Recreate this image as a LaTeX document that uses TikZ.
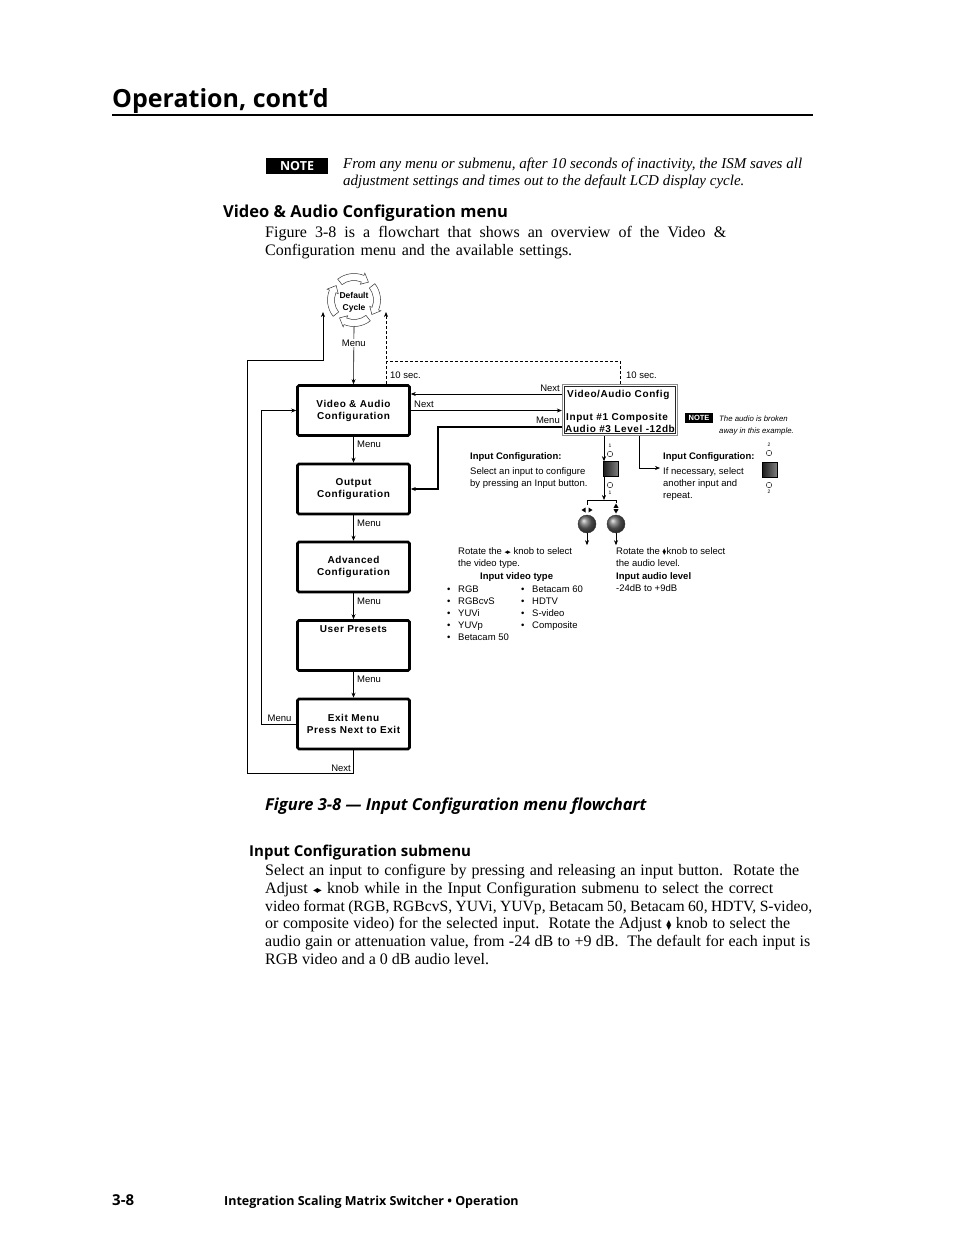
\documentclass[tikz,border=0pt]{standalone}
\usepackage{fontspec}
\setmainfont{Liberation Serif}
\newfontfamily\hfont{Open Sans}
\newfontfamily\dfont{Liberation Sans}
\newfontfamily\djv{DejaVu Sans}
\newfontfamily\bxfont[LetterSpace=6]{Liberation Sans}
\usetikzlibrary{arrows.meta}
\newcommand\lrico[1]{{\djv\fontsize{#1}{#1}\selectfont ◂\kern-0.12em▸}}
\newcommand\udico[1]{{\djv\fontsize{#1}{#1}\selectfont\rlap{\raisebox{0.3em}{▴}}\raisebox{-0.2em}{▾}}}
\begin{document}
\begin{tikzpicture}[x=1pt,y=-1pt,
  arr/.style={-{Stealth[length=5pt,width=4pt]}, line width=0.6pt},
  txt/.style={anchor=base west, inner sep=0pt, font=\fontsize{16}{18}\selectfont},
  itx/.style={anchor=base west, inner sep=0pt, font=\itshape\fontsize{15}{18}\selectfont},
  hd/.style={anchor=base west, inner sep=0pt, font=\hfont\bfseries\fontsize{16.5}{18}\selectfont},
  dt/.style={anchor=base west, inner sep=0pt, font=\dfont\fontsize{9.5}{11}\selectfont},
  dtb/.style={anchor=base west, inner sep=0pt, font=\dfont\bfseries\fontsize{9.5}{11}\selectfont},
  lbl/.style={inner sep=1pt, fill=white, font=\dfont\fontsize{9.5}{11}\selectfont},
  mbox/.style={draw, line width=2.6pt, rounded corners=1.5pt, minimum width=112pt, minimum height=50pt, inner sep=0pt, align=center, font=\bxfont\bfseries\fontsize{10}{12}\selectfont},
  lcdt/.style={anchor=base west, inner sep=0pt, font=\bxfont\bfseries\fontsize{10}{12}\selectfont},
  led/.style={circle, draw, fill=white, minimum size=5.5pt, inner sep=0pt, line width=0.4pt},
  tiny/.style={inner sep=0pt, font=\dfont\fontsize{5}{5}\selectfont},
  btn/.style={draw, line width=0.5pt, minimum size=15pt, inner sep=0pt, left color=black!90, right color=black!50},
  knob/.style={circle, draw=black!80, line width=0.4pt, minimum size=18pt, inner sep=0pt, ball color=black!60},
  cyarr/.style={fill=white, draw=black!80, line width=0.5pt}
]
\fill[white] (0,0) rectangle (954,1235);
\useasboundingbox (0,0) rectangle (954,1235);

% header
\node[anchor=base west, inner sep=0pt, font=\hfont\bfseries\fontsize{25}{30}\selectfont] (title) at (112,107) {Operation, cont’d};
\draw[line width=1.6pt] (112,115) -- (813,115);

\node[fill=black, text=white, font=\hfont\bfseries\fontsize{12.5}{14}\selectfont, minimum width=62pt, minimum height=16pt, inner sep=0pt] (note) at (297,166) {NOTE};
\node[itx] (n1) at (343,168) {From any menu or submenu, after 10 seconds of inactivity, the ISM saves all};
\node[itx] (n2) at (343,185) {adjustment settings and times out to the default LCD display cycle.};

\node[hd] (h1) at (223,217) {Video \& Audio Configuration menu};
\node[txt] (p1) at (265,237) {\makebox[461pt][s]{Figure 3-8 is a flowchart that shows an overview of the Video \&}};
\node[txt] (p2) at (265,255) {\makebox[307pt][s]{Configuration menu and the available settings.}};

% default cycle
\node[circle, minimum size=54pt, inner sep=0pt] (dc) at (354,300) {};
\begin{scope}[shift={(354,300)}]
\foreach \a/\b in {232/292, 322/382, 52/112, 142/202}{
  \filldraw[cyarr] (\a:26.5) arc[start angle=\a, end angle=\b, radius=26.5] -- (\b:29) -- (\b+17:23) -- (\b:17) -- (\b:19.5) arc[start angle=\b, end angle=\a, radius=19.5] -- cycle;
}
\end{scope}
\node[font=\dfont\bfseries\fontsize{8.5}{12}\selectfont, align=center, inner sep=0pt] (dct) at (354,302) {Default\\Cycle};

% menu boxes
\node[mbox] (va) at (353.5,410.5) {Video \& Audio\\Configuration};
\node[mbox] (oc) at (353.5,489) {Output\\Configuration};
\node[mbox] (ac) at (353.5,567) {Advanced\\Configuration};
\node[mbox] (up) at (353.5,645.5) {};
\node[inner sep=0pt, font=\bxfont\bfseries\fontsize{10}{12}\selectfont] (upt) at (353.5,629) {User Presets};
\node[mbox] (ex) at (353.5,724) {Exit Menu\\Press Next to Exit};

\draw[arr] (dc.south) -- (va.north) node[lbl, pos=0.28] {Menu};
\draw[arr] (va.south) -- (oc.north);
\draw[arr] (oc.south) -- (ac.north);
\draw[arr] (ac.south) -- (up.north);
\draw[arr] (up.south) -- (ex.north);
\node[dt] at (357,447.5) {Menu};
\node[dt] at (357,526.5) {Menu};
\node[dt] at (357,604.5) {Menu};
\node[dt] at (357,682.5) {Menu};

% loops
\coordinate (dcL) at (323,312);
\coordinate (dcR) at (386,312);
\draw[arr] (ex.south) |- (247,773) |- (323,360) -- (dcL);
\node[dt, anchor=base east] at (351,771) {Next};
\draw[arr] (ex.west) -| (261,410.5) -- (va.west);
\node[dt, anchor=base] at (279.5,721) {Menu};

% LCD
\node[draw=black!45, line width=1.3pt, minimum width=115pt, minimum height=51pt, inner sep=0pt] (lcd) at (620,410) {};
\draw[line width=0.9pt, black!85] (564.5,386.5) rectangle (675.5,433.5);
\node[lcdt] at (567,397) {Video/Audio Config};
\node[lcdt] at (566,420) {Input \#1 Composite};
\node[lcdt] at (565,432) {Audio \#3 Level -12db};

% dashed timeouts
\draw[arr, dash pattern=on 3pt off 2pt] (va.north -| dcR) -- (dcR);
\draw[line width=0.6pt, dash pattern=on 3pt off 2pt] (lcd.north) |- (dcR |- 0,361);
\node[dt] at (390,378.5) {10 sec.};
\node[dt] at (626,378.5) {10 sec.};

% next / menu between V&A and LCD
\draw[arr] ([yshift=16pt]lcd.west) -- ([yshift=16pt]lcd.west -| va.east);
\draw[arr, line width=1.4pt] (va.east) -- (va.east -| lcd.west);
\node[dt] at (414,407.5) {Next};
\node[dt, anchor=base east] at (560,391.5) {Next};
\node[dt, anchor=base east] at (560,423.5) {Menu};
\coordinate (mB) at (438,0);
\draw[arr, line width=1.2pt] ([yshift=-17pt]lcd.west) -| (mB |- oc.east) -- (oc.east);

% note small
\node[fill=black, text=white, font=\dfont\bfseries\fontsize{7.5}{8}\selectfont, minimum width=28pt, minimum height=10pt, inner sep=0pt] (snote) at (699,418) {NOTE};
\node[anchor=base west, inner sep=0pt, font=\dfont\itshape\fontsize{7.8}{9}\selectfont] at (719,421.5) {The audio is broken};
\node[anchor=base west, inner sep=0pt, font=\dfont\itshape\fontsize{7.8}{9}\selectfont] at (719,433.5) {away in this example.};

% input 1
\coordinate (l1) at (604,0);
\coordinate (br) at (604,500);
\node[btn] (b1) at (610.5,469) {};
\node[led] (c1t) at (610,454) {};
\node[led] (c1b) at (610,485) {};
\node[tiny] at (610,446) {1};
\node[tiny] at (610,493) {1};
\draw[arr] (lcd.south -| l1) -- (b1.north -| l1);
\draw[arr] (b1.south -| l1) -- (br);
\node[knob] (k1) at (587,524) {};
\node[knob] (k2) at (616,524) {};
\draw[line width=0.6pt] (k1 |- br) -- (k2 |- br);
\draw[line width=0.6pt] (k1 |- br) -- ++(0,5);
\draw[line width=0.6pt] (k2 |- br) -- ++(0,3);
\fill (581.5,510) -- (585.5,507.5) -- (585.5,512.5) -- cycle;
\fill (592.5,510) -- (588.5,507.5) -- (588.5,512.5) -- cycle;
\fill (616,503.5) -- (613.5,507.8) -- (618.5,507.8) -- cycle;
\fill (616,513.5) -- (613.5,509.2) -- (618.5,509.2) -- cycle;
\draw[arr] (k1.south) -- ++(0,12);
\draw[arr] (k2.south) -- ++(0,12);

% input 2
\coordinate (l2) at (639,0);
\coordinate (ic2) at (660,468);
\draw[arr] (lcd.south -| l2) |- (ic2);
\node[btn] (b2) at (769.5,469.5) {};
\node[led] (c2t) at (769,453) {};
\node[led] (c2b) at (769,485) {};
\node[tiny] at (769,445) {2};
\node[tiny] at (769,492) {2};

% input config texts
\node[dtb] at (470,459.5) {Input Configuration:};
\node[dt] at (470,474.5) {Select an input to configure};
\node[dt] at (470,486.5) {by pressing an Input button.};
\node[dtb] at (663,459.5) {Input Configuration:};
\node[dt] at (663,474.5) {If necessary, select};
\node[dt] at (663,486.5) {another input and};
\node[dt] at (663,498.5) {repeat.};

\node[dt] at (458,554.5) {Rotate the \lrico{7}\ knob to select};
\node[dt] at (458,566.5) {the video type.};
\node[dtb] at (480,579.5) {Input video type};
\foreach \t [count=\i] in {RGB, RGBcvS, YUVi, YUVp, Betacam 50}{
  \node[dt] at (447,580.5+12*\i) {•};
  \node[dt] at (458,580.5+12*\i) {\t};
}
\foreach \t [count=\i] in {Betacam 60, HDTV, S-video, Composite}{
  \node[dt] at (521,580.5+12*\i) {•};
  \node[dt] at (532,580.5+12*\i) {\t};
}
\node[dt] at (616,554.5) {Rotate the \udico{7}\kern0.5pt knob to select};
\node[dt] at (616,566.5) {the audio level.};
\node[dtb] at (616,579.5) {Input audio level};
\node[dt] at (616,591.5) {-24dB to +9dB};

% caption and following text
\node[anchor=base west, inner sep=0pt, font=\hfont\bfseries\itshape\fontsize{16.5}{18}\selectfont] (cap) at (265,810) {Figure 3-8 — Input Configuration menu flowchart};
\node[hd, font=\hfont\bfseries\fontsize{15}{18}\selectfont] (h2) at (249,856) {Input Configuration submenu};
\node[txt] at (265,875) {\makebox[534pt][s]{Select an input to configure by pressing and releasing an input button.\ \ Rotate the}};
\node[txt] at (265,893) {\makebox[508pt][s]{Adjust \lrico{10}\ knob while in the Input Configuration submenu to select the correct}};
\node[txt, font=\fontsize{15.6}{18}\selectfont] at (265,911) {\makebox[547pt][s]{video format (RGB, RGBcvS, YUVi, YUVp, Betacam 50, Betacam 60, HDTV, S-video,}};
\node[txt] at (265,928) {\makebox[525pt][s]{or composite video) for the selected input.\ \ Rotate the Adjust \udico{10}\ knob to select the}};
\node[txt] at (265,946) {\makebox[545pt][s]{audio gain or attenuation value, from -24 dB to +9 dB.\ \ The default for each input is}};
\node[txt] at (265,964) {RGB video and a 0 dB audio level.};

% footer
\node[anchor=base west, inner sep=0pt, font=\hfont\bfseries\fontsize{15}{18}\selectfont] (pg) at (112,1205) {3-8};
\node[anchor=base west, inner sep=0pt, font=\hfont\bfseries\fontsize{12.5}{18}\selectfont] (ft) at (224,1205) {Integration Scaling Matrix Switcher • Operation};
\end{tikzpicture}
\end{document}
